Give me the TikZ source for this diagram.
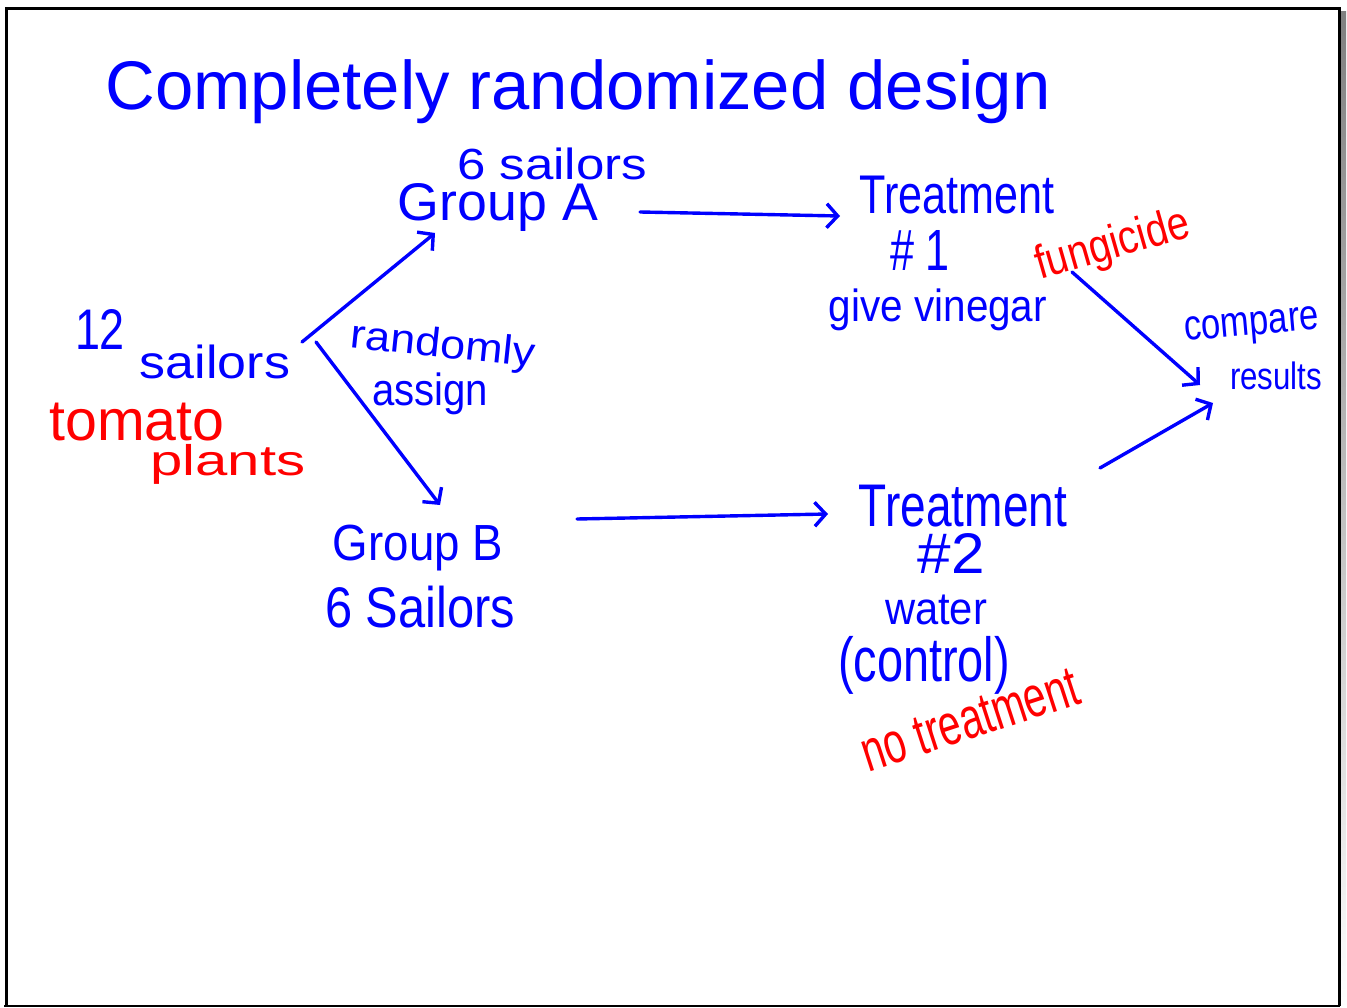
\documentclass[tikz,border=0pt]{standalone}
\usepackage{fontspec}
\setmainfont{Liberation Sans}
\usetikzlibrary{arrows.meta,calc}
\definecolor{ink}{RGB}{0,0,255}
\definecolor{redink}{RGB}{255,0,0}
\definecolor{shade}{RGB}{140,140,140}
% scale a text to a given width, or to a given width and total height (in pt)
\newcommand{\fitw}[2]{\resizebox{#1pt}{!}{#2}}
\newcommand{\fitwh}[3]{\resizebox*{#1pt}{#2pt}{#3}}

\begin{document}
\begin{tikzpicture}[x=1pt,y=-1pt,
  lbl/.style={inner sep=0pt, text=ink, font=\fontsize{20}{24}\selectfont},
  note/.style={lbl, text=redink},
  arr/.style={draw=ink, line width=3.4pt, line cap=round, line join=round,
    -{Straight Barb[length=11pt,width=24pt]}}]

\useasboundingbox (0,0) rectangle (1347,1008);
\fill[white] (0,0) rectangle (1347,1008);

% page frame with shadow
\fill[shade] (1341,12) rectangle (1346,1008);
\draw[shade, line width=2pt] (4,1006) -- (1340,1006);
\draw[black, line width=3pt] (6,1006) -- (6,9) -- (1339,9) -- (1339,1006);

% title
\node[lbl] (title) at (578,92) {\fitw{945}{Completely randomized design}};

% starting pool
\node[lbl] (n12)  at (100,329) {\fitwh{50}{40}{12}};
\node[lbl] (sail) at (215,362) {\fitwh{150}{34}{sailors}};
\node[note] (tom) at (137,422) {\fitwh{175}{38}{tomato}};
\node[note] (pla) at (228,464) {\fitwh{155}{40}{plants}};

% randomization
\node[lbl, rotate=-6] (rnd) at (443,347) {\fitwh{185}{38}{randomly}};
\node[lbl] (asg) at (430,394) {\fitwh{116}{42}{assign}};

% groups
\node[lbl] (s6a)  at (552,164) {\fitwh{190}{32}{6 sailors}};
\node[lbl] (grpA) at (498,207) {\fitwh{200}{48}{Group A}};
\node[lbl] (grpB) at (418,548) {\fitwh{170}{46}{Group B}};
\node[lbl] (s6b)  at (420,607) {\fitwh{190}{42}{6 Sailors}};

% treatment 1
\node[lbl] (t1) at (957,195) {\fitwh{195}{38}{Treatment}};
\node[lbl] (n1) at (920,250) {\fitwh{60}{40}{\# 1}};
\node[lbl] (v1) at (938,310) {\fitwh{218}{42}{give vinegar}};
\node[note, rotate=16] (fung) at (1113,246) {\fitwh{158}{44}{fungicide}};

% treatment 2
\node[lbl] (t2)  at (963,506) {\fitwh{208}{42}{Treatment}};
\node[lbl] (n2)  at (951,553) {\fitwh{67}{40}{\#2}};
\node[lbl] (wat) at (936,610) {\fitwh{102}{30}{water}};
\node[lbl] (ctl) at (924,665) {\fitwh{172}{58}{(control)}};
\node[note, rotate=18] (notr) at (970,720) {\fitwh{226}{38}{no treatment}};

% outcome
\node[lbl, rotate=5] (cmp) at (1252,328) {\fitwh{135}{32}{compare}};
\node[lbl] (res) at (1276,376) {\fitwh{92}{28}{results}};

% connectors
\draw[arr] ($(sail)+(87,-20)$) -- ($(grpA)+(-63,26)$);
\draw[arr] ($(sail)+(101,-20)$) -- ($(grpB)+(22,-43)$);
\draw[arr] ($(grpA)+(142,5)$) -- ($(t1)+(-117,21)$);
\draw[arr] ($(grpB)+(159,-29)$) -- ($(t2)+(-135,8)$);
\draw[arr] ($(fung)+(-41,26)$) -- ($(res)+(-76,9)$);
\draw[arr] ($(t2)+(137,-38)$) -- ($(res)+(-63,27)$);

\end{tikzpicture}
\end{document}
